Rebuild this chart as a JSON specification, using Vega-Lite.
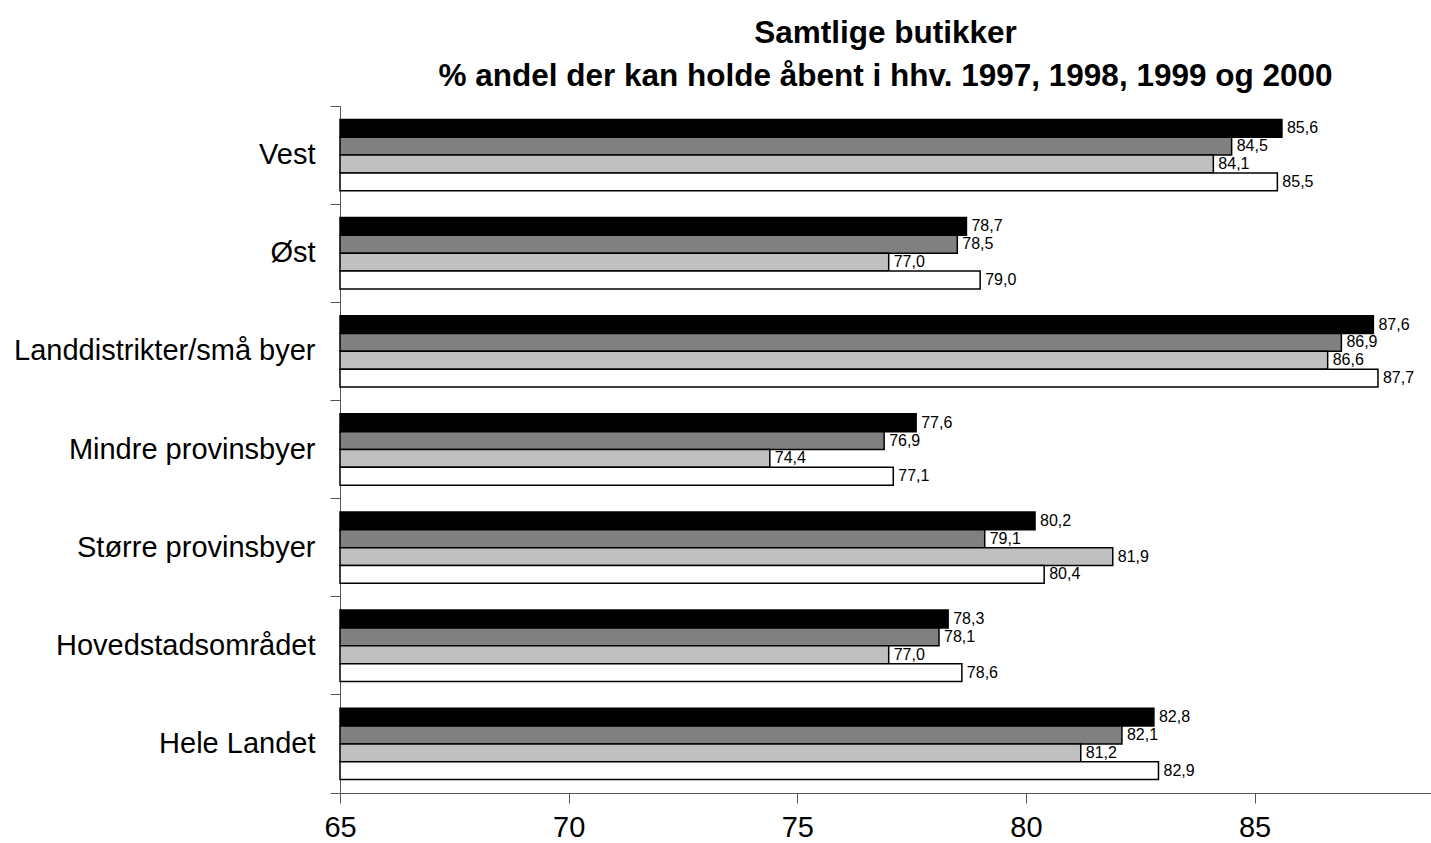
{
  "$schema": "https://vega.github.io/schema/vega-lite/v6.json",
  "width": 1091,
  "height": 687,
  "autosize": {"type": "none"},
  "padding": {"left": 340, "top": 106, "right": 0, "bottom": 50},
  "background": "white",
  "title": {
    "text": ["Samtlige butikker", "% andel der kan holde åbent i hhv. 1997, 1998, 1999 og 2000"],
    "font": "Liberation Sans",
    "fontSize": 31.5,
    "fontWeight": "bold",
    "lineHeight": 43,
    "anchor": "middle",
    "offset": 0,
    "color": "black"
  },
  "data": {
    "values": [
      {"omrade": "Vest", "year": "2000", "value": 85.6},
      {"omrade": "Vest", "year": "1999", "value": 84.5},
      {"omrade": "Vest", "year": "1998", "value": 84.1},
      {"omrade": "Vest", "year": "1997", "value": 85.5},
      {"omrade": "Øst", "year": "2000", "value": 78.7},
      {"omrade": "Øst", "year": "1999", "value": 78.5},
      {"omrade": "Øst", "year": "1998", "value": 77.0},
      {"omrade": "Øst", "year": "1997", "value": 79.0},
      {"omrade": "Landdistrikter/små byer", "year": "2000", "value": 87.6},
      {"omrade": "Landdistrikter/små byer", "year": "1999", "value": 86.9},
      {"omrade": "Landdistrikter/små byer", "year": "1998", "value": 86.6},
      {"omrade": "Landdistrikter/små byer", "year": "1997", "value": 87.7},
      {"omrade": "Mindre provinsbyer", "year": "2000", "value": 77.6},
      {"omrade": "Mindre provinsbyer", "year": "1999", "value": 76.9},
      {"omrade": "Mindre provinsbyer", "year": "1998", "value": 74.4},
      {"omrade": "Mindre provinsbyer", "year": "1997", "value": 77.1},
      {"omrade": "Større provinsbyer", "year": "2000", "value": 80.2},
      {"omrade": "Større provinsbyer", "year": "1999", "value": 79.1},
      {"omrade": "Større provinsbyer", "year": "1998", "value": 81.9},
      {"omrade": "Større provinsbyer", "year": "1997", "value": 80.4},
      {"omrade": "Hovedstadsområdet\u00a0", "year": "2000", "value": 78.3},
      {"omrade": "Hovedstadsområdet\u00a0", "year": "1999", "value": 78.1},
      {"omrade": "Hovedstadsområdet\u00a0", "year": "1998", "value": 77.0},
      {"omrade": "Hovedstadsområdet\u00a0", "year": "1997", "value": 78.6},
      {"omrade": "Hele Landet", "year": "2000", "value": 82.8},
      {"omrade": "Hele Landet", "year": "1999", "value": 82.1},
      {"omrade": "Hele Landet", "year": "1998", "value": 81.2},
      {"omrade": "Hele Landet", "year": "1997", "value": 82.9}
    ]
  },
  "encoding": {
    "y": {
      "field": "omrade",
      "type": "nominal",
      "sort": null,
      "scale": {"paddingInner": 0, "paddingOuter": 0},
      "axis": {
        "title": null,
        "labelFont": "Liberation Sans",
        "labelFontSize": 29,
        "labelColor": "black",
        "labelPadding": 15,
        "labelLimit": 0,
        "tickSize": 10,
        "tickColor": "#555555",
        "domainColor": "#555555",
        "bandPosition": 1,
        "tickExtra": true
      }
    },
    "yOffset": {
      "field": "year",
      "type": "nominal",
      "scale": {"domain": ["2000", "1999", "1998", "1997"], "paddingInner": 0, "paddingOuter": 0.75}
    },
    "x": {
      "field": "value",
      "type": "quantitative",
      "scale": {"domain": [65, 88.86], "zero": false, "nice": false},
      "axis": {
        "title": null,
        "values": [65, 70, 75, 80, 85],
        "grid": false,
        "labelFont": "Liberation Sans",
        "labelFontSize": 29,
        "labelColor": "black",
        "labelPadding": 10,
        "labelFlush": false,
        "tickSize": 10,
        "tickColor": "#555555",
        "domainColor": "#555555"
      }
    }
  },
  "layer": [
    {
      "mark": {"type": "bar", "stroke": "black", "strokeWidth": 1.5},
      "encoding": {
        "x2": {"datum": 65},
        "color": {
          "field": "year",
          "type": "nominal",
          "scale": {"domain": ["2000", "1999", "1998", "1997"], "range": ["#000000", "#808080", "#c0c0c0", "#ffffff"]},
          "legend": null
        }
      }
    },
    {
      "mark": {"type": "text", "align": "left", "baseline": "middle", "dx": 5, "font": "Liberation Sans", "fontSize": 16, "color": "black"},
      "encoding": {
        "text": {"field": "value", "type": "quantitative", "format": ".1f"}
      }
    }
  ],
  "config": {
    "view": {"stroke": null},
    "locale": {"number": {"decimal": ",", "thousands": ".", "grouping": [3], "currency": ["", " kr."]}}
  }
}
